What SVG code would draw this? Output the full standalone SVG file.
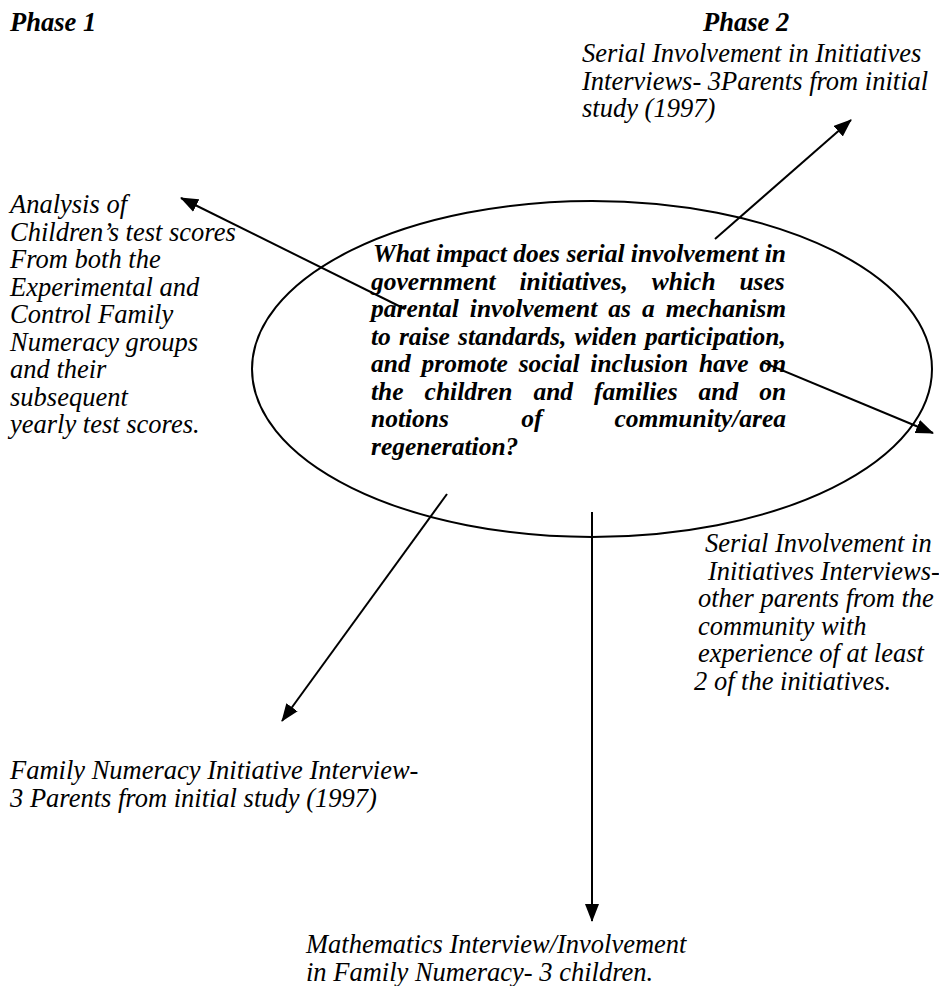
<svg xmlns="http://www.w3.org/2000/svg" width="939" height="986" viewBox="0 0 939 986">
<defs>
<style>
text { font-family: "Liberation Serif", "Times New Roman", serif; font-style: italic; fill: #000; }
.lbl { font-size: 26.5px; }
.phase { font-size: 26.5px; font-weight: bold; }
.q { font-size: 25.5px; font-weight: bold; }
.conn line { stroke: #000; stroke-width: 2; fill: none; marker-end: url(#ah); }
.outline { fill: none; stroke: #000; stroke-width: 2; }
</style>
<marker id="ah" markerUnits="userSpaceOnUse" markerWidth="18" markerHeight="14" refX="17" refY="7" orient="auto" viewBox="0 0 18 14">
<path d="M0,0 L18,7 L0,14 z" fill="#000"/>
</marker>
</defs>
<rect width="939" height="986" fill="#fff"/>

<g id="phase1">
<text class="phase" x="10" y="31">Phase 1</text>
</g>
<g id="phase2">
<text class="phase" x="703" y="31">Phase 2</text>
</g>

<g id="node-serial-initial">
<text class="lbl" x="582" y="62">Serial Involvement in Initiatives</text>
<text class="lbl" x="582" y="89.5">Interviews- 3Parents from initial</text>
<text class="lbl" x="582" y="117">study (1997)</text>
</g>

<g id="node-analysis">
<text class="lbl" x="10" y="213">Analysis of</text>
<text class="lbl" x="10" y="240.5">Children’s test scores</text>
<text class="lbl" x="10" y="268">From both the</text>
<text class="lbl" x="10" y="295.5">Experimental and</text>
<text class="lbl" x="10" y="323">Control Family</text>
<text class="lbl" x="10" y="350.5">Numeracy groups</text>
<text class="lbl" x="10" y="378">and their</text>
<text class="lbl" x="10" y="405.5">subsequent</text>
<text class="lbl" x="10" y="433">yearly test scores.</text>
</g>

<g id="node-question">
<ellipse class="outline" cx="592" cy="369" rx="340" ry="168"/>
<text class="q" x="373" y="262">What impact does serial involvement in</text>
<text class="q" x="371" y="289.5" style="word-spacing:17.5px">government initiatives, which uses</text>
<text class="q" x="371" y="317" style="word-spacing:4.6px">parental involvement as a mechanism</text>
<text class="q" x="371" y="344.5" style="word-spacing:1.7px">to raise standards, widen participation,</text>
<text class="q" x="371" y="372" style="word-spacing:4.4px">and promote social inclusion have on</text>
<text class="q" x="371" y="399.5" style="word-spacing:14.6px">the children and families and on</text>
<text class="q" x="371" y="427" style="word-spacing:65.8px">notions of community/area</text>
<text class="q" x="371" y="454.5">regeneration?</text>
</g>

<g id="node-serial-other">
<text class="lbl" x="705" y="552">Serial Involvement in</text>
<text class="lbl" x="708" y="579.5">Initiatives Interviews-</text>
<text class="lbl" x="698" y="607">other parents from the</text>
<text class="lbl" x="698" y="634.5">community with</text>
<text class="lbl" x="698" y="662">experience of at least</text>
<text class="lbl" x="694" y="689.5">2 of the initiatives.</text>
</g>

<g id="node-family-numeracy">
<text class="lbl" x="10" y="779">Family Numeracy Initiative Interview-</text>
<text class="lbl" x="10" y="806.5">3 Parents from initial study (1997)</text>
</g>

<g id="node-mathematics">
<text class="lbl" x="306" y="953">Mathematics Interview/Involvement</text>
<text class="lbl" x="306" y="980.5">in Family Numeracy- 3 children.</text>
</g>

<g id="connectors" class="conn">
<line x1="715" y1="239" x2="851" y2="120"/>
<line x1="405" y1="309" x2="181" y2="198"/>
<line x1="762" y1="362" x2="933" y2="433"/>
<line x1="447" y1="494" x2="282" y2="721"/>
<line x1="592" y1="512" x2="592" y2="921"/>
</g>
</svg>
